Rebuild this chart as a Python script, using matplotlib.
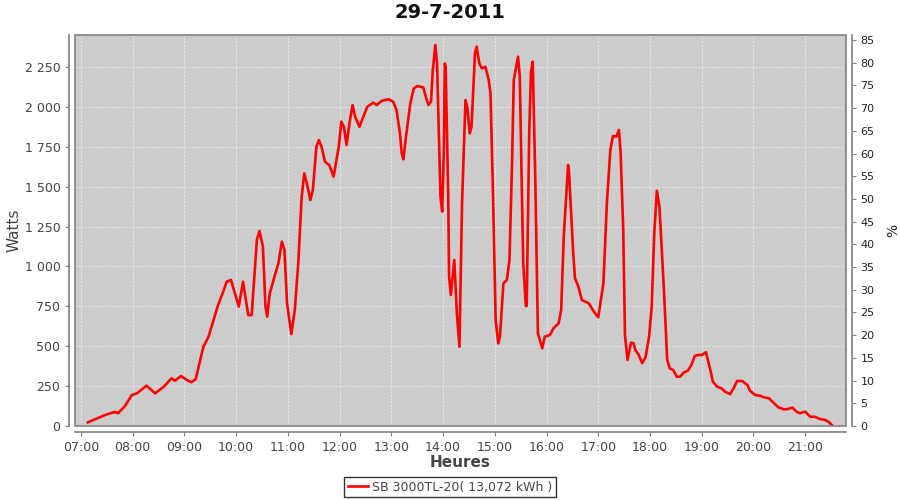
import matplotlib
matplotlib.use("Agg")
import matplotlib.pyplot as plt
from matplotlib.ticker import FuncFormatter, MultipleLocator
from matplotlib.patches import Rectangle

# production du 29-7-2011 (heure, watts)
times = ["07:08", "07:28", "07:39", "07:43", "07:51", "07:59", "08:05", "08:16",
         "08:26", "08:36", "08:45", "08:49", "08:56", "09:03", "09:08", "09:13",
         "09:22", "09:28", "09:32", "09:39", "09:45", "09:49", "09:54", "10:03",
         "10:08", "10:14", "10:18", "10:24", "10:27", "10:31", "10:34", "10:36",
         "10:39", "10:45", "10:49", "10:53", "10:56", "10:59", "11:04", "11:08",
         "11:12", "11:16", "11:19", "11:22", "11:26", "11:29", "11:33", "11:36",
         "11:39", "11:43", "11:48", "11:53", "11:59", "12:02", "12:05", "12:08",
         "12:12", "12:15", "12:18", "12:23", "12:26", "12:32", "12:39", "12:43",
         "12:49", "12:57", "13:02", "13:06", "13:10", "13:12", "13:14", "13:17",
         "13:22", "13:26", "13:30", "13:37", "13:40", "13:43", "13:46", "13:48",
         "13:51", "13:53", "13:55", "13:57", "13:59", "14:01", "14:02", "14:03",
         "14:06", "14:07", "14:09", "14:13", "14:16", "14:19", "14:22", "14:26",
         "14:28", "14:31", "14:33", "14:37", "14:39", "14:42", "14:45", "14:49",
         "14:53", "14:55", "14:58", "15:01", "15:04", "15:06", "15:10", "15:14",
         "15:17", "15:20", "15:22", "15:27", "15:29", "15:31", "15:33", "15:36",
         "15:37", "15:40", "15:42", "15:44", "15:47", "15:50", "15:55", "15:58",
         "16:04", "16:08", "16:14", "16:17", "16:20", "16:25", "16:26", "16:31",
         "16:33", "16:37", "16:41", "16:49", "16:55", "17:00", "17:06", "17:10",
         "17:14", "17:17", "17:21", "17:24", "17:26", "17:29", "17:31", "17:34",
         "17:38", "17:41", "17:43", "17:47", "17:51", "17:55", "17:59", "18:02",
         "18:05", "18:08", "18:11", "18:16", "18:20", "18:23", "18:27", "18:31",
         "18:35", "18:39", "18:44", "18:48", "18:52", "18:56", "19:00", "19:05",
         "19:10", "19:13", "19:18", "19:23", "19:27", "19:33", "19:37", "19:41",
         "19:47", "19:53", "19:56", "20:02", "20:08", "20:12", "20:18", "20:24",
         "20:29", "20:35", "20:39", "20:45", "20:51", "20:54", "21:00", "21:06",
         "21:11", "21:17", "21:23", "21:27", "21:31"]
watts = [23, 69, 88, 80, 125, 194, 205, 253,
         205, 246, 299, 284, 313, 288, 274, 293,
         497, 560, 633, 758, 842, 904, 915, 748,
         904, 695, 695, 1165, 1222, 1124, 748, 685,
         831, 946, 1019, 1155, 1103, 769, 576, 727,
         1019, 1437, 1583, 1520, 1416, 1479, 1750, 1792,
         1750, 1656, 1635, 1562, 1750, 1907, 1875, 1760,
         1917, 2011, 1938, 1875, 1917, 2000, 2026, 2011,
         2038, 2047, 2032, 1980, 1834, 1709, 1671, 1813,
         2021, 2115, 2130, 2122, 2063, 2011, 2032, 2222,
         2387, 2272, 1855, 1437, 1343, 1750, 2272, 2250,
         1437, 935, 821, 1040, 706, 497, 1395, 2042,
         2000, 1834, 1875, 2335, 2377, 2272, 2241, 2251,
         2168, 2084, 1437, 664, 518, 560, 894, 915,
         1040, 1646, 2168, 2314, 2189, 1583, 1019, 752,
         752, 1855, 2220, 2283, 1541, 581, 487, 560,
         570, 612, 643, 727, 1186, 1635, 1600, 1082,
         925, 873, 789, 769, 716, 681, 894, 1395,
         1729, 1817, 1813, 1855, 1709, 1228, 570, 414,
         522, 518, 476, 445, 393, 434, 560, 748,
         1207, 1474, 1374, 873, 414, 361, 351, 309,
         309, 334, 347, 382, 439, 445, 445, 462,
         351, 278, 246, 236, 215, 200, 236, 282,
         282, 257, 221, 194, 190, 180, 174, 142,
         117, 105, 105, 115, 86, 80, 90, 58,
         58, 44, 38, 27, 6]
series_label = "SB 3000TL-20( 13,072 kWh )"
hour_ticks = list(range(7, 22))

hours = [int(t[:2]) + int(t[3:]) / 60 for t in times]

grey_txt = "#444444"
axis_col = "#808080"

fig = plt.figure(figsize=(9, 5), dpi=100)
ax = fig.add_axes([75 / 900, 1 - 426 / 500, (846 - 75) / 900, (426 - 35) / 500])
ax.set_facecolor("#cccccc")

ax.plot(hours, watts, color="#ff0000", lw=1.9, solid_joinstyle="round",
        label=series_label)

ax.set_xlim(6.884, 21.79)
ax.set_ylim(0, 2450)
ax.set_xticks(hour_ticks)
ax.xaxis.set_major_formatter(FuncFormatter(lambda v, p: "%02d:00" % int(round(v))))
ax.yaxis.set_major_locator(MultipleLocator(250))
ax.yaxis.set_major_formatter(FuncFormatter(lambda v, p: format(int(v), ",").replace(",", " ")))
ax.grid(True, color="#f2f2f2", ls=(0, (2, 2)), lw=0.6)
ax.set_axisbelow(True)

# axes décalés comme dans JFreeChart
for s in ["top", "right"]:
    ax.spines[s].set_visible(False)
for s in ["left", "bottom"]:
    ax.spines[s].set_position(("outward", 4))
    ax.spines[s].set_color(axis_col)
    ax.spines[s].set_linewidth(1.2)
ax.add_patch(Rectangle((0, 0), 1, 1, transform=ax.transAxes, fill=False,
                       edgecolor=axis_col, lw=1.2, clip_on=False, zorder=5))
ax.tick_params(colors=axis_col, labelcolor=grey_txt, labelsize=9, length=3, width=0.8)

ax.set_xlabel("Heures", fontsize=11, fontweight="bold", color=grey_txt, labelpad=1)
ax.set_ylabel("Watts", fontsize=11, color=grey_txt, labelpad=2)

ax2 = ax.twinx()
ax2.set_ylim(0, 86.1)
ax2.yaxis.set_major_locator(MultipleLocator(5))
for s in ["top", "left", "bottom"]:
    ax2.spines[s].set_visible(False)
ax2.spines["right"].set_position(("outward", 4))
ax2.spines["right"].set_color(axis_col)
ax2.spines["right"].set_linewidth(1.2)
ax2.tick_params(colors=axis_col, labelcolor="#222222", labelsize=8, length=3, width=0.8)
ax2.set_ylabel("%", fontsize=10, color="#222222", labelpad=8)

fig.suptitle("29-7-2011", x=0.5, y=0.995, fontsize=14, fontweight="bold", color="#111111")

leg = fig.legend(loc="center", bbox_to_anchor=(0.5, 1 - 487 / 500), fontsize=9,
                 frameon=True, fancybox=False, handlelength=1.6, handletextpad=0.3,
                 borderpad=0.3, labelcolor=grey_txt)
leg.get_frame().set_edgecolor("black")
leg.get_frame().set_linewidth(1.0)

fig.savefig("out.png", dpi=100)
